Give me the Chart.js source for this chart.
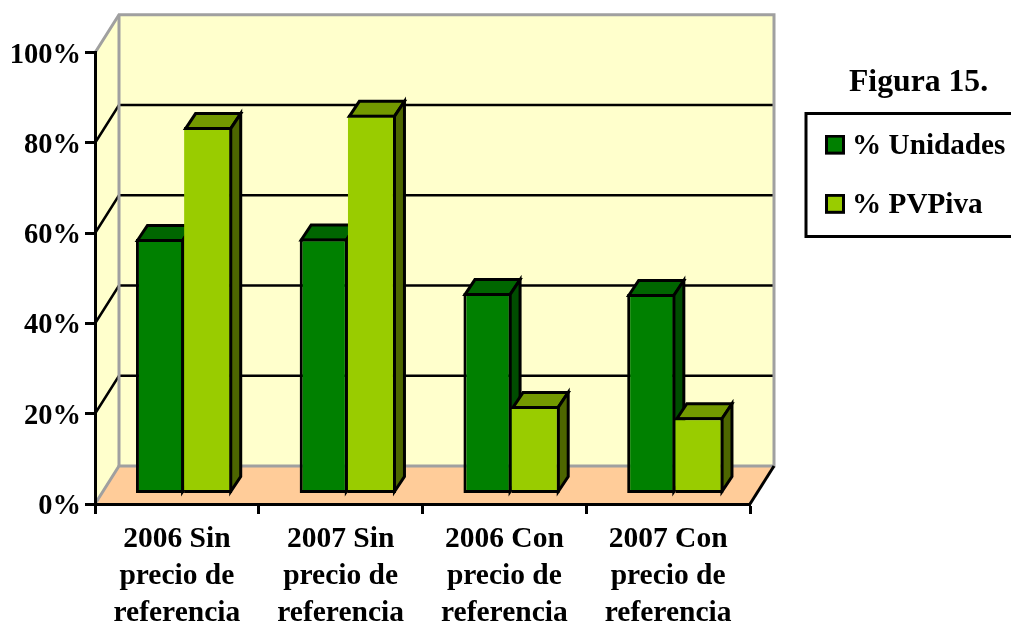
<!DOCTYPE html>
<html>
<head>
<meta charset="utf-8">
<title>Figura 15.</title>
<script src="https://cdn.jsdelivr.net/npm/chart.js@4"></script>
<style>
  html, body { margin: 0; padding: 0; background: #fff; overflow: hidden; }
  canvas { display: block; }
</style>
</head>
<body>
<canvas id="graph" width="1011" height="623"></canvas>
<script>
const categories = [
    ['2006 Sin', 'precio de', 'referencia'],
    ['2007 Sin', 'precio de', 'referencia'],
    ['2006 Con', 'precio de', 'referencia'],
    ['2007 Con', 'precio de', 'referencia']
];
const unidades = [56.4, 56.5, 44.4, 44.2];
const pvpiva = [81.2, 83.9, 19.4, 16.9];

const serif = 'Liberation Serif';
const wallColor = '#ffffcc';
const floorColor = '#ffcc99';
const edgeColor = '#a0a0a0';
const barLine = 3;

// Depth of the box and of the bars, in pixels
const boxDepth = { x: 24, y: 38 };
const barDepth = { x: 10, y: 15 };
const barShift = { x: 7.2, y: -10.5 };

const barColors = [
    { front: '#008000', top: '#006600', side: '#004d00' },
    { front: '#99cc00', top: '#739900', side: '#4d6600' }
];

function poly(ctx, points, fill, stroke, width) {
    ctx.beginPath();
    points.forEach(function (p, i) {
        if (i === 0) ctx.moveTo(p[0], p[1]);
        else ctx.lineTo(p[0], p[1]);
    });
    if (fill) {
        ctx.closePath();
        ctx.fillStyle = fill;
        ctx.fill();
    }
    if (stroke) {
        ctx.strokeStyle = stroke;
        ctx.lineWidth = width;
        ctx.lineJoin = 'miter';
        ctx.stroke();
    }
}

// Legend swatches are small canvases so the label can sit close to them.
// The extra height at the bottom lifts the square a little above the text centre.
function swatch(color) {
    const c = document.createElement('canvas');
    c.width = 20;
    c.height = 24;
    const g = c.getContext('2d');
    g.fillStyle = color;
    g.fillRect(0, 0, 20, 20);
    g.strokeStyle = '#000';
    g.lineWidth = 3;
    g.strokeRect(1.5, 1.5, 17, 17);
    return c;
}

const box3d = {
    id: 'box3d',
    // Title and legend live to the right of the plot
    afterLayout(chart) {
        const t = chart.titleBlock;
        t.left = 849; t.right = 1011; t.top = 67; t.bottom = 99;
        const l = chart.legend;
        l.left = 802.5; l.right = 1011; l.top = 102; l.bottom = 300;
    },
    // Walls, floor and the lines on them
    beforeDraw(chart) {
        const ctx = chart.ctx;
        const xs = chart.scales.x;
        const ys = chart.scales.y;
        const left = xs.left, right = xs.right;
        const y0 = ys.getPixelForValue(0), y100 = ys.getPixelForValue(100);
        const dx = boxDepth.x, dy = boxDepth.y;

        ctx.save();
        poly(ctx, [[left, y0], [left + dx, y0 - dy], [left + dx, y100 - dy], [left, y100]], wallColor);
        poly(ctx, [[left + dx, y0 - dy], [right + dx, y0 - dy], [right + dx, y100 - dy], [left + dx, y100 - dy]], wallColor);
        poly(ctx, [[left, y0], [right, y0], [right + dx, y0 - dy], [left + dx, y0 - dy]], floorColor);

        [20, 40, 60, 80].forEach(function (v) {
            const y = ys.getPixelForValue(v);
            poly(ctx, [[left, y], [left + dx, y - dy], [right + dx, y - dy]], null, '#000', 2.5);
        });

        poly(ctx, [[left, y100], [left + dx, y100 - dy], [right + dx, y100 - dy], [right + dx, y0 - dy], [left + dx, y0 - dy], [left, y0]], null, edgeColor, 3);
        poly(ctx, [[left + dx, y100 - dy], [left + dx, y0 - dy]], null, edgeColor, 3);
        poly(ctx, [[right, y0], [right + dx, y0 - dy]], null, '#000', 3);

        // legend frame, runs off the right side of the page
        ctx.strokeStyle = '#000';
        ctx.lineWidth = 3;
        ctx.strokeRect(806, 113.5, 215, 123);
        ctx.restore();
    },
    // Bars go left to right inside each group, so the library's own dataset pass is skipped
    beforeDatasetsDraw(chart) {
        const ctx = chart.ctx;
        const inset = barLine / 2;
        ctx.save();
        ctx.translate(barShift.x, barShift.y);
        chart.data.datasets.forEach(function (ds, i) {
            const colors = barColors[i];
            chart.getDatasetMeta(i).data.forEach(function (bar) {
                const l = bar.x - bar.width / 2 + inset, r = bar.x + bar.width / 2 - inset;
                const t = bar.y + inset, b = bar.base - inset;
                const dx = barDepth.x, dy = barDepth.y;
                poly(ctx, [[l, t], [l + dx, t - dy], [r + dx, t - dy], [r, t]], colors.top, '#000', barLine);
                poly(ctx, [[r, t], [r + dx, t - dy], [r + dx, b - dy], [r, b]], colors.side, '#000', barLine);
                bar.draw(ctx);
            });
        });
        ctx.restore();
        return false;
    }
};

const ctx = document.getElementById('graph').getContext('2d');
const myChart = new Chart(ctx, {
    type: 'bar',
    data: {
        labels: categories,
        datasets: [
            {
                label: '% Unidades',
                data: unidades,
                backgroundColor: barColors[0].front,
                borderColor: '#000',
                borderWidth: barLine,
                borderSkipped: false,
                categoryPercentage: 0.588,
                barPercentage: 1
            },
            {
                label: '% PVPiva',
                data: pvpiva,
                backgroundColor: barColors[1].front,
                borderColor: '#000',
                borderWidth: barLine,
                borderSkipped: 'left',
                categoryPercentage: 0.588,
                barPercentage: 1
            }
        ]
    },
    options: {
        responsive: false,
        animation: false,
        layout: { padding: { top: 21, right: 261, left: 0, bottom: 0 } },
        plugins: {
            tooltip: { enabled: false },
            title: {
                display: true,
                text: 'Figura 15.',
                align: 'start',
                color: '#000',
                padding: 0,
                font: { family: serif, weight: 'bold', size: 31.7, lineHeight: 1 }
            },
            legend: {
                position: 'chartArea',
                align: 'start',
                labels: {
                    color: '#000',
                    font: { family: serif, weight: 'bold', size: 29.2 },
                    usePointStyle: true,
                    boxWidth: 5,
                    padding: 30,
                    generateLabels(chart) {
                        const items = Chart.defaults.plugins.legend.labels.generateLabels(chart);
                        items.forEach(function (item) {
                            item.pointStyle = swatch(barColors[item.datasetIndex].front);
                        });
                        return items;
                    }
                }
            }
        },
        scales: {
            x: {
                afterFit(scale) { scale.height = 119; },
                border: { color: '#000', width: 3 },
                grid: { drawOnChartArea: false, drawTicks: true, tickLength: 10, tickColor: '#000', tickWidth: 3 },
                ticks: {
                    color: '#000',
                    maxRotation: 0,
                    autoSkip: false,
                    padding: 7,
                    font: { family: serif, weight: 'bold', size: 29.5, lineHeight: 1.254 }
                }
            },
            y: {
                min: 0,
                max: 100,
                afterFit(scale) { scale.width = 95; },
                border: { color: '#000', width: 3 },
                grid: { drawOnChartArea: false, drawTicks: true, tickLength: 10, tickColor: '#000', tickWidth: 3 },
                ticks: {
                    color: '#000',
                    stepSize: 20,
                    padding: 4,
                    labelOffset: 2.5,
                    font: { family: serif, weight: 'bold', size: 28.5 },
                    callback: function (v) { return v + '%'; }
                }
            }
        }
    },
    plugins: [box3d]
});
</script>
</body>
</html>
